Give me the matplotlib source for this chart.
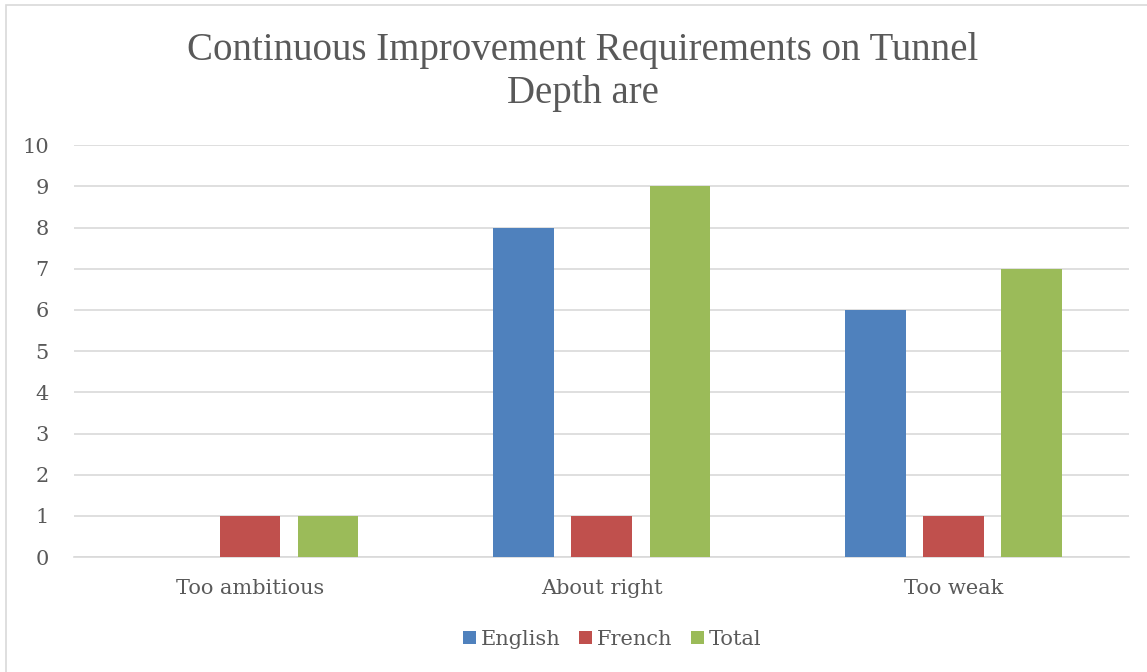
import numpy as np
import matplotlib
matplotlib.use("Agg")
import matplotlib.pyplot as plt
from matplotlib.patches import Rectangle

# data
categories = ["Too ambitious", "About right", "Too weak"]
english = [0, 8, 6]
french = [1, 1, 1]
total = [1, 9, 7]
series_names = ["English", "French", "Total"]
series_colors = ["#4F81BD", "#C0504D", "#9BBB59"]

txt = "#595959"
plt.rcParams['font.family'] = ['DejaVu Serif']

fig = plt.figure(figsize=(11.47, 6.72), dpi=100)
ax = fig.add_axes([0.0645, 0.171, 0.9202, 0.613])

# frame round the chart
fig.patches.append(Rectangle((6/1147, -0.1), 1.2, 1.1 - 5/672, transform=fig.transFigure,
                             fill=False, edgecolor="#D9D9D9", linewidth=1.2))

x = np.arange(len(categories))
w = 0.172
off = 0.222
for i, (vals, name, col) in enumerate(zip([english, french, total], series_names, series_colors)):
    ax.bar(x + (i - 1) * off, vals, width=w, color=col, label=name, zorder=3)

ax.set_xlim(-0.5, 2.5)
ax.set_ylim(0, 10)
ax.set_yticks(range(0, 11))
ax.set_xticks(x)
ax.set_xticklabels(categories)
ax.yaxis.grid(True, color="#D9D9D9", linewidth=1.2, zorder=0)
for s in ["top", "right", "left"]:
    ax.spines[s].set_visible(False)
ax.spines["bottom"].set_color("#D9D9D9")
ax.spines["bottom"].set_linewidth(1.2)
ax.tick_params(axis="both", length=0, labelsize=15, colors=txt)
ax.tick_params(axis="x", pad=16)
ax.tick_params(axis="y", pad=18)

fig.text(0.508, 0.893, "Continuous Improvement Requirements on Tunnel\nDepth are",
         ha="center", va="center", fontsize=28, color=txt, family="Liberation Serif",
         linespacing=1.2)

ax.legend(loc="upper center", bbox_to_anchor=(0.51, -0.132), ncol=3, frameon=False,
          fontsize=15, labelcolor=txt, handlelength=0.6, handleheight=0.6,
          handletextpad=0.25, columnspacing=0.9)

fig.savefig("out.png", dpi=100)
